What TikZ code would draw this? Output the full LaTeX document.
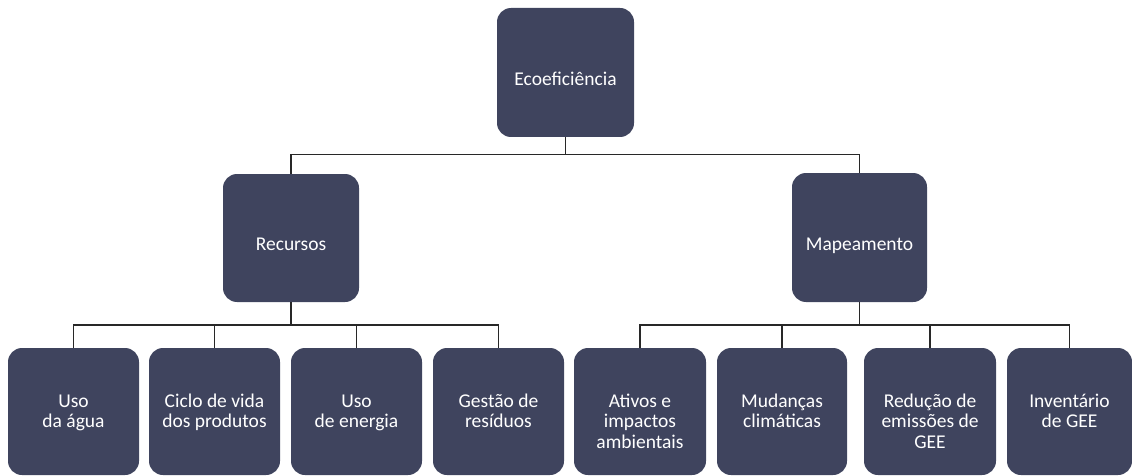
\documentclass[tikz,border=0pt]{standalone}
\usepackage{fontspec}
\setmainfont{Carlito}
\definecolor{boxc}{RGB}{63,68,94}
\definecolor{linec}{RGB}{40,40,40}
\tikzset{
  box/.style={fill=boxc, draw=none, rounded corners=14pt, inner sep=0pt, minimum height=127pt, minimum width=131pt},
  lbl/.style={text=white, font=\fontsize{19.5}{20.5}\selectfont, align=center, anchor=base, inner sep=0pt},
  conn/.style={draw=linec, line width=1.3pt},
}
\begin{document}
\begin{tikzpicture}[x=1pt,y=-1pt]
\useasboundingbox (0,0) rectangle (1132,476);
% boxes
\node[box, minimum width=137pt, minimum height=129pt] (top) at (565.5,72.5) {};
\node[box, minimum width=136pt, minimum height=128pt] (rec) at (291,238) {};
\node[box, minimum width=135pt, minimum height=129pt] (map) at (859.5,237.5) {};
\node[box] (b1) at (73.5,411.5) {};
\node[box] (b2) at (214.5,411.5) {};
\node[box] (b3) at (356.5,411.5) {};
\node[box] (b4) at (498.5,411.5) {};
\node[box, minimum width=132pt] (b5) at (640,411.5) {};
\node[box, minimum width=130pt] (b6) at (782,411.5) {};
\node[box, minimum width=132pt] (b7) at (930,411.5) {};
\node[box, minimum width=125pt] (b8) at (1069.5,411.5) {};
% labels (anchor = baseline of the last line)
\node[lbl] (ttop) at ([yshift=-78pt]top.north) {Ecoeficiência};
\node[lbl] (trec) at ([yshift=-77pt]rec.north) {Recursos};
\node[lbl] (tmap) at ([yshift=-78pt]map.north) {Mapeamento};
\node[lbl] (t1) at ([yshift=-80pt]b1.north) {Uso\\da água};
\node[lbl] (t2) at ([yshift=-80pt]b2.north) {Ciclo de vida\\dos produtos};
\node[lbl] (t3) at ([yshift=-80pt]b3.north) {Uso\\de energia};
\node[lbl] (t4) at ([yshift=-80pt]b4.north) {Gestão de\\resíduos};
\node[lbl] (t5) at ([yshift=-100.5pt]b5.north) {Ativos e\\impactos\\ambientais};
\node[lbl] (t6) at ([yshift=-80pt]b6.north) {Mudanças\\climáticas};
\node[lbl] (t7) at ([yshift=-100.5pt]b7.north) {Redução de\\emissões de\\GEE};
\node[lbl] (t8) at ([yshift=-80pt]b8.north) {Inventário\\de GEE};
% connectors
\coordinate (bar1) at (0,154.5);
\coordinate (bar2) at (0,325);
\draw[conn] (top.south) -- (bar1 -| top.south);
\draw[conn] (rec.north) |- (bar1 -| top.south);
\draw[conn] (map.north) |- (bar1 -| top.south);
\draw[conn] (rec.south) -- (bar2 -| rec.south);
\foreach \b in {b1,b2,b3,b4} \draw[conn] (\b.north) |- (bar2 -| rec.south);
\draw[conn] (map.south) -- (bar2 -| map.south);
\foreach \b in {b5,b6,b7,b8} \draw[conn] (\b.north) |- (bar2 -| map.south);
\end{tikzpicture}
\end{document}
